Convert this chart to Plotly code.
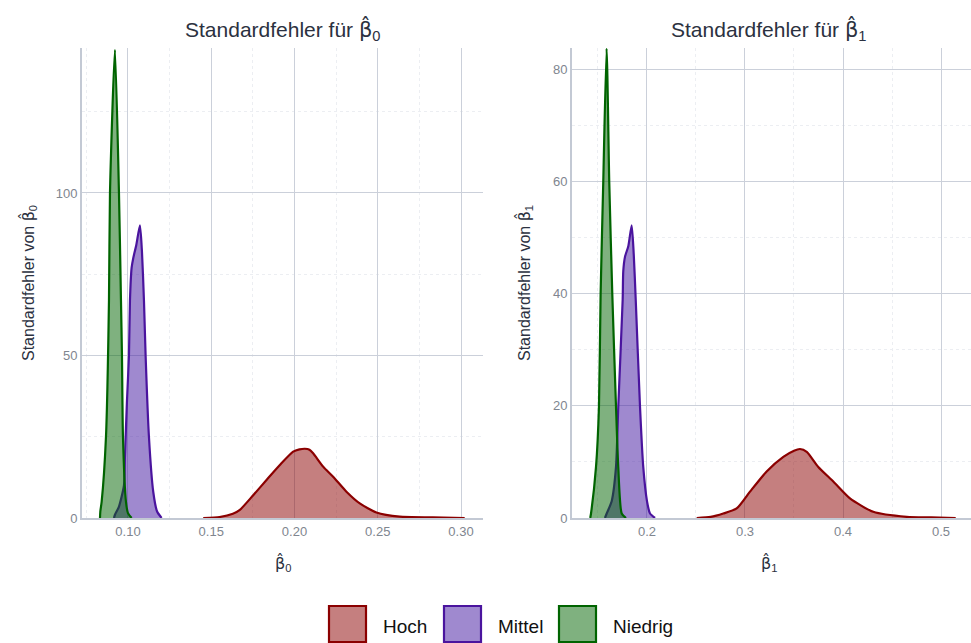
import plotly.graph_objects as go

# ---------------- data ----------------
groups = ["Hoch", "Mittel", "Niedrig"]

# panel 1: beta_0
b0_hoch_x = [0.1452, 0.1550, 0.1630, 0.1672, 0.1752, 0.1832, 0.1912, 0.1992, 0.2030, 0.2062,
             0.2090, 0.2112, 0.2172, 0.2232, 0.2312, 0.2392, 0.2492, 0.2632, 0.2830, 0.3022]
b0_hoch_y = [0.0, 0.3, 1.3, 2.5, 7.0, 11.7, 16.3, 20.4, 21.1, 21.3,
             21.0, 19.9, 15.8, 12.7, 8.1, 4.5, 1.7, 0.4, 0.2, 0.0]

b0_mittel_x = [0.0916, 0.0922, 0.0946, 0.0976, 0.0982, 0.0994, 0.1006, 0.1012, 0.1022, 0.1032,
               0.1050, 0.1072, 0.1084, 0.1096, 0.1106, 0.1126, 0.1152, 0.1175, 0.1202]
b0_mittel_y = [0.0, 1.0, 3.5, 10.0, 19.0, 36.0, 50.0, 67.0, 77.0, 80.0,
               84.0, 90.0, 82.0, 67.0, 50.0, 25.0, 8.0, 2.0, 0.0]

b0_niedrig_x = [0.0832, 0.0834, 0.0842, 0.0868, 0.0886, 0.0892, 0.0922, 0.0946, 0.0958, 0.0964,
                0.0970, 0.0988, 0.1000, 0.1022]
b0_niedrig_y = [0.0, 2.0, 5.0, 25.0, 67.0, 100.0, 144.0, 100.0, 67.0, 50.0,
                25.0, 5.0, 1.5, 0.0]

# panel 2: beta_1
b1_hoch_x = [0.2507, 0.2650, 0.2779, 0.2915, 0.3051, 0.3221, 0.3391, 0.3500, 0.3561, 0.3630,
             0.3748, 0.3901, 0.4071, 0.4309, 0.4650, 0.4900, 0.5150]
b1_hoch_y = [0.0, 0.2, 0.8, 1.7, 4.7, 8.3, 10.9, 12.0, 12.3, 11.8,
             9.1, 6.5, 3.5, 1.1, 0.2, 0.1, 0.0]

b1_mittel_x = [0.1571, 0.1589, 0.1640, 0.1684, 0.1707, 0.1752, 0.1758, 0.1776, 0.1810, 0.1844,
               0.1865, 0.1885, 0.1929, 0.1962, 0.2000, 0.2031, 0.2082]
b1_mittel_y = [0.0, 0.8, 3.0, 9.1, 19.8, 38.9, 44.0, 46.6, 48.5, 52.2,
               47.0, 39.0, 19.8, 9.1, 3.0, 0.8, 0.0]

b1_niedrig_x = [0.1421, 0.1429, 0.1480, 0.1510, 0.1527, 0.1554, 0.1588, 0.1615, 0.1646, 0.1684,
                0.1707, 0.1742, 0.1786]
b1_niedrig_y = [0.0, 0.8, 9.1, 19.8, 40.0, 60.0, 83.7, 60.0, 40.0, 19.8,
                9.1, 0.8, 0.0]

x_ticks_0 = [0.10, 0.15, 0.20, 0.25, 0.30]
y_ticks_0 = [0, 50, 100]
x_ticks_1 = [0.2, 0.3, 0.4, 0.5]
y_ticks_1 = [0, 20, 40, 60, 80]

# ---------------- styling ----------------
line_cols = {"Hoch": "#8B0000", "Mittel": "#4A149E", "Niedrig": "#006400"}
fill_cols = {"Hoch": "rgba(139,0,0,0.5)", "Mittel": "rgba(64,20,160,0.5)",
             "Niedrig": "rgba(0,100,0,0.5)"}
FONT = "Liberation Sans, Arial, sans-serif"
GRID = "#cbd0da"
MINOR = "#eceef2"
AXLINE = "#c3c9d4"
TICKC = "#80868f"
TITLEC = "#2b3140"

def beta_hat(sub):
    return (f"<span style='font-family:DejaVu Sans'>β\u0302</span><sub>{sub}</sub>")

fig = go.Figure()

panels = [
    ("x", "y", {"Hoch": (b0_hoch_x, b0_hoch_y), "Mittel": (b0_mittel_x, b0_mittel_y),
                "Niedrig": (b0_niedrig_x, b0_niedrig_y)}),
    ("x2", "y2", {"Hoch": (b1_hoch_x, b1_hoch_y), "Mittel": (b1_mittel_x, b1_mittel_y),
                  "Niedrig": (b1_niedrig_x, b1_niedrig_y)}),
]
for xa, ya, data in panels:
    for g in groups:
        xs, ys = data[g]
        fig.add_trace(go.Scatter(
            x=xs, y=ys, xaxis=xa, yaxis=ya, mode="lines", name=g,
            line=dict(color=line_cols[g], width=2.2, shape="spline", smoothing=0.6),
            fill="tozeroy", fillcolor=fill_cols[g], showlegend=False, hoverinfo="skip"))

W, H = 971, 643
L0, R0 = 82, 483
L1, R1 = 572, 971
TOP, BOT = 48, 518

def dom_x(a, b):
    return [a / W, min(b / W, 1.0)]

ydom = [1 - BOT / H, 1 - TOP / H]

common_axis = dict(showline=True, linecolor=AXLINE, linewidth=2, mirror=False,
                   showgrid=True, gridcolor=GRID, gridwidth=1, zeroline=False,
                   automargin=False, ticks="",
                   tickfont=dict(family=FONT, size=13, color=TICKC))

fig.update_layout(
    width=W, height=H, margin=dict(l=0, r=0, t=0, b=0, autoexpand=False),
    paper_bgcolor="white", plot_bgcolor="white", showlegend=False,
    font=dict(family=FONT),
    xaxis=dict(domain=dom_x(L0, R0), anchor="y", range=[0.0724, 0.3132],
               tickvals=x_ticks_0, ticktext=[f"{v:.2f}" for v in x_ticks_0],
               minor=dict(showgrid=True, dtick=0.025, tick0=0.075, gridcolor=MINOR,
                          griddash="dot", gridwidth=1),
               **common_axis),
    yaxis=dict(domain=ydom, anchor="x", range=[0, 144.6],
               tickvals=y_ticks_0, ticktext=[str(v) for v in y_ticks_0],
               minor=dict(showgrid=True, dtick=25, tick0=0, gridcolor=MINOR,
                          griddash="dot", gridwidth=1),
               **common_axis),
    xaxis2=dict(domain=dom_x(L1, R1), anchor="y2", range=[0.1235, 0.5306],
                tickvals=x_ticks_1, ticktext=[f"{v:.1f}" for v in x_ticks_1],
                minor=dict(showgrid=True, dtick=0.05, tick0=0.05, gridcolor=MINOR,
                           griddash="dot", gridwidth=1),
                **common_axis),
    yaxis2=dict(domain=ydom, anchor="x2", range=[0, 83.8],
                tickvals=y_ticks_1, ticktext=[str(v) for v in y_ticks_1],
                minor=dict(showgrid=True, dtick=10, tick0=0, gridcolor=MINOR,
                           griddash="dot", gridwidth=1),
                **common_axis),
)

ann = []
# panel titles
for cx, sub in [((L0 + R0) / 2, "0"), ((L1 + 965) / 2, "1")]:
    ann.append(dict(x=cx / W, y=1 - 30 / H, xref="paper", yref="paper",
                    text=f"Standardfehler für {beta_hat(sub)}", showarrow=False,
                    font=dict(family=FONT, size=21, color=TITLEC),
                    xanchor="center", yanchor="middle"))
# x axis titles
for cx, sub in [((L0 + R0) / 2, "0"), ((L1 + 965) / 2, "1")]:
    ann.append(dict(x=cx / W, y=1 - 563 / H, xref="paper", yref="paper",
                    text=beta_hat(sub), showarrow=False,
                    font=dict(family=FONT, size=16, color=TITLEC),
                    xanchor="center", yanchor="middle"))
# y axis titles
for cx, sub in [(28, "0"), (524, "1")]:
    ann.append(dict(x=cx / W, y=1 - 283 / H, xref="paper", yref="paper",
                    text=f"Standardfehler von {beta_hat(sub)}", showarrow=False,
                    textangle=-90, font=dict(family=FONT, size=16, color=TITLEC),
                    xanchor="center", yanchor="middle"))

# custom legend
legend_box_x = {"Hoch": 329, "Mittel": 444, "Niedrig": 559}
shapes = []
for g in groups:
    x0 = legend_box_x[g]
    shapes.append(dict(type="rect", xref="paper", yref="paper",
                       x0=x0 / W, x1=(x0 + 37) / W, y0=1 - 642 / H, y1=1 - 606 / H,
                       line=dict(color=line_cols[g], width=2.2), fillcolor=fill_cols[g]))
    ann.append(dict(x=(x0 + 52) / W, y=1 - 626 / H, xref="paper", yref="paper",
                    text=g, showarrow=False, font=dict(family=FONT, size=19, color="#111111"),
                    xanchor="left", yanchor="middle"))

fig.update_layout(annotations=ann, shapes=shapes)

post = "document.body.style.margin='0';document.body.style.padding='0';"
fig.write_html("out.html", config={"displayModeBar": False}, post_script=post)
